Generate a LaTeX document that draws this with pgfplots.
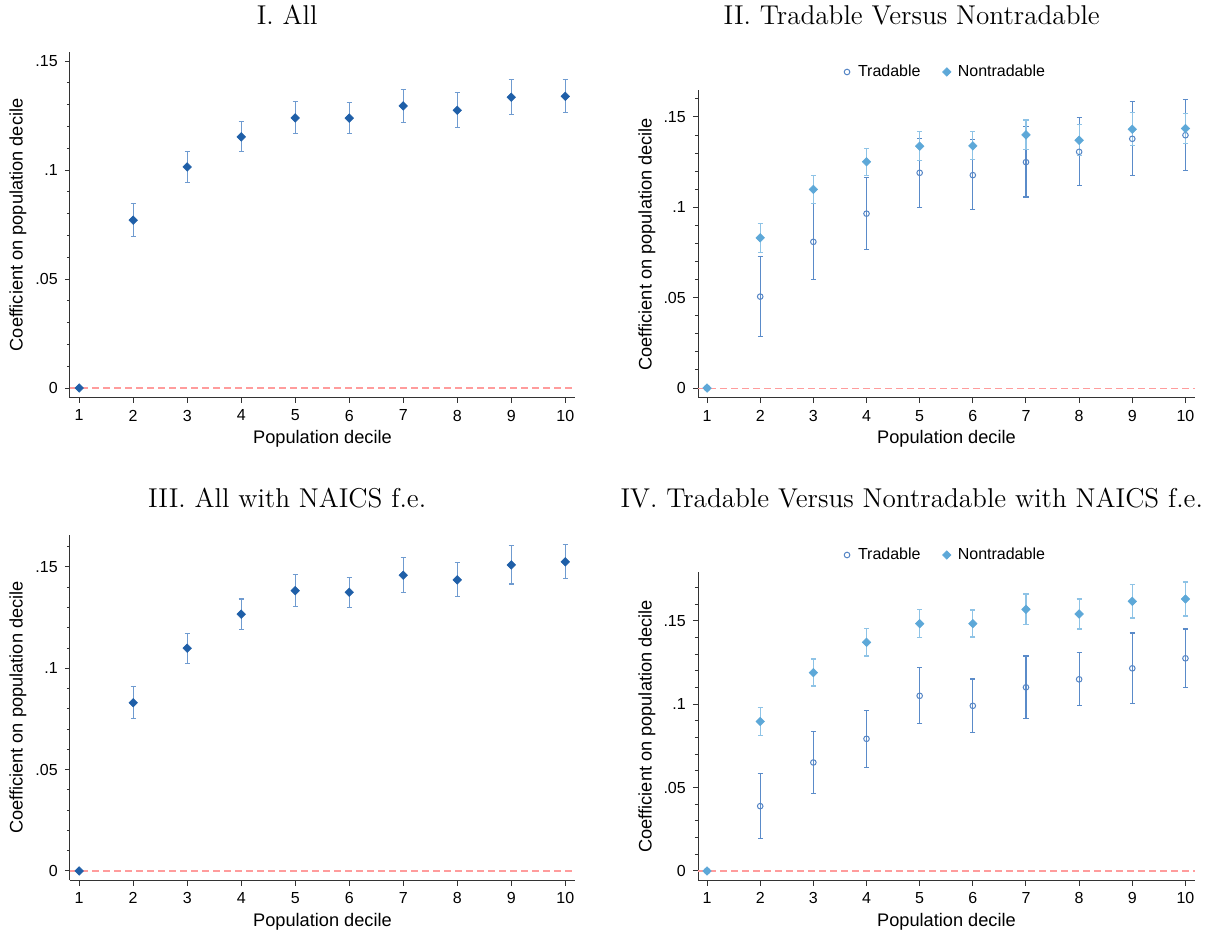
\documentclass[border=0pt]{standalone}
\usepackage{fontspec}
\usepackage{pgfplots}
\usepackage{pgfplotstable}
\pgfplotsset{compat=1.18}
\newfontfamily\arial{Liberation Sans}

\definecolor{allblue}{HTML}{1F5FA8}
\definecolor{allci}{HTML}{6F9BD0}
\definecolor{trblue}{HTML}{5585C5}
\definecolor{trci}{HTML}{5A8BC9}
\definecolor{ntblue}{HTML}{5DA8D8}
\definecolor{ntci}{HTML}{8EC3E6}
\definecolor{zeroline}{HTML}{FF9C9C}
\definecolor{axisgray}{HTML}{333333}

% coefficient, lower and upper confidence bound by population decile
\pgfplotstableread{
x  y      lo     hi
2  0.0770 0.0697 0.0846
3  0.1014 0.0944 0.1085
4  0.1152 0.1084 0.1223
5  0.1239 0.1168 0.1313
6  0.1238 0.1168 0.1309
7  0.1294 0.1218 0.1369
8  0.1274 0.1195 0.1355
9  0.1334 0.1255 0.1415
10 0.1338 0.1264 0.1415
}\tabAll

\pgfplotstableread{
x  y      lo     hi
1  0      0      0
2  0.0506 0.0285 0.0728
3  0.0809 0.0601 0.1020
4  0.0965 0.0765 0.1167
5  0.1191 0.1000 0.1382
6  0.1178 0.0987 0.1375
7  0.1250 0.1057 0.1447
8  0.1307 0.1119 0.1496
9  0.1379 0.1175 0.1586
10 0.1399 0.1206 0.1596
}\tabTr

\pgfplotstableread{
x  y      lo     hi
1  0      0      0
2  0.0831 0.0752 0.0912
3  0.1099 0.1020 0.1175
4  0.1252 0.1175 0.1327
5  0.1338 0.1257 0.1419
6  0.1340 0.1265 0.1419
7  0.1401 0.1320 0.1483
8  0.1371 0.1287 0.1460
9  0.1432 0.1342 0.1524
10 0.1436 0.1353 0.1520
}\tabNt

\pgfplotstableread{
x  y      lo     hi
2  0.0830 0.0752 0.0908
3  0.1099 0.1023 0.1173
4  0.1267 0.1193 0.1342
5  0.1383 0.1303 0.1464
6  0.1375 0.1299 0.1449
7  0.1459 0.1372 0.1548
8  0.1436 0.1352 0.1520
9  0.1510 0.1416 0.1605
10 0.1525 0.1441 0.1612
}\tabAllFE

\pgfplotstableread{
x  y      lo     hi
1  0      0      0
2  0.0389 0.0196 0.0585
3  0.0651 0.0465 0.0837
4  0.0793 0.0623 0.0963
5  0.1051 0.0887 0.1220
6  0.0991 0.0833 0.1152
7  0.1102 0.0913 0.1290
8  0.1150 0.0991 0.1310
9  0.1216 0.1007 0.1428
10 0.1276 0.1100 0.1452
}\tabTrFE

\pgfplotstableread{
x  y      lo     hi
1  0      0      0
2  0.0897 0.0813 0.0981
3  0.1190 0.1110 0.1272
4  0.1372 0.1290 0.1454
5  0.1484 0.1400 0.1570
6  0.1484 0.1404 0.1566
7  0.1570 0.1478 0.1662
8  0.1542 0.1452 0.1632
9  0.1618 0.1518 0.1718
10 0.1632 0.1530 0.1734
}\tabNtFE

\pgfplotsset{
  decile/.style={
    scale only axis,
    axis x line*=bottom, axis y line*=left,
    axis line style={-, draw=axisgray, line width=0.5pt},
    xmin=0.83, xmax=10.18,
    xtick={1,...,10},
    ytick={0,0.05,0.1,0.15}, yticklabels={0,.05,.1,.15},
    minor ytick={0.01,0.02,0.03,0.04,0.06,0.07,0.08,0.09,0.11,0.12,0.13,0.14,0.16,0.17},
    tick align=outside, major tick length=2.6pt, minor tick length=1.6pt,
    every tick/.style={draw=axisgray, line width=0.5pt},
    tick label style={font=\arial\fontsize{8}{9.6}\selectfont, text=black},
    /pgf/number format/assume math mode=true,
    xlabel={Population decile},
    ylabel={Coefficient on population decile},
    label style={font=\arial\fontsize{9.1}{10.9}\selectfont},
    xlabel style={at={(axis description cs:0.5,0)}, anchor=center, yshift=-20.5pt},
    ylabel style={at={(axis description cs:-0.103,0.5)}, anchor=center},
    title style={font=\fontsize{13.6}{16.3}\selectfont, at={(axis description cs:0.43,1)}, anchor=center},
    clip=false,
    legend style={at={(axis description cs:0.5,1)}, anchor=center, draw=none, fill=none,
      font=\arial\fontsize{8}{9.6}\selectfont, legend columns=2,
      /tikz/every even column/.append style={column sep=9pt}},
    legend cell align=left,
    legend image code/.code={\path[draw=none] (0pt,0pt) -- (5pt,0pt);
      \draw[##1] plot coordinates {(1.5pt,0pt)};},
  },
  cibars/.style={error bars/.cd, y dir=both, y explicit,
    error bar style={line width=0.55pt, draw=#1},
    error mark options={rotate=90, mark size=1.3pt, line width=0.55pt, draw=#1}},
  dia/.style={only marks, mark=square*, mark size=1.5pt,
    mark options={rotate=45, draw=#1, fill=#1, line width=0.3pt}},
  circ/.style={only marks, mark=o, mark size=1.4pt,
    mark options={draw=#1, line width=0.5pt}},
  zero/.style={zeroline, dash pattern=on 3.5pt off 2pt, line width=0.55pt, forget plot},
}

\begin{document}
\begin{tikzpicture}
\useasboundingbox (0,0) rectangle (604pt,468.5pt);

% I. All
\begin{axis}[decile, at={(35pt,269.7pt)}, anchor=south west,
  width=252.5pt, height=172.65pt, ymin=-0.0044, ymax=0.154,
  title={I. All}, title style={yshift=12.65pt}]
\addplot[zero] coordinates {(0.83,0) (10.18,0)};
\addplot[dia=allblue, forget plot] coordinates {(1,0)};
\addplot[dia=allblue, cibars=allci] table[x=x, y=y,
  y error plus expr=\thisrow{hi}-\thisrow{y},
  y error minus expr=\thisrow{y}-\thisrow{lo}] {\tabAll};
\end{axis}

% II. Tradable versus nontradable
\begin{axis}[decile, at={(349pt,269.5pt)}, anchor=south west,
  width=248.5pt, height=153.8pt, ymin=-0.0055, ymax=0.1647,
  title={II. Tradable Versus Nontradable}, title style={yshift=31.7pt},
  legend style={yshift=9.2pt}]
\addplot[zero] coordinates {(0.83,0) (10.18,0)};
\addplot[circ=trblue, cibars=trci] table[x=x, y=y,
  y error plus expr=\thisrow{hi}-\thisrow{y},
  y error minus expr=\thisrow{y}-\thisrow{lo}] {\tabTr};
\addlegendentry{Tradable}
\addplot[dia=ntblue, cibars=ntci] table[x=x, y=y,
  y error plus expr=\thisrow{hi}-\thisrow{y},
  y error minus expr=\thisrow{y}-\thisrow{lo}] {\tabNt};
\addlegendentry{Nontradable}
\end{axis}

% III. All with NAICS fixed effects
\begin{axis}[decile, at={(35pt,28.35pt)}, anchor=south west,
  width=252.5pt, height=172.8pt, ymin=-0.0046, ymax=0.1659,
  title={III. All with NAICS f.e.}, title style={yshift=12.35pt}]
\addplot[zero] coordinates {(0.83,0) (10.18,0)};
\addplot[dia=allblue, forget plot] coordinates {(1,0)};
\addplot[dia=allblue, cibars=allci] table[x=x, y=y,
  y error plus expr=\thisrow{hi}-\thisrow{y},
  y error minus expr=\thisrow{y}-\thisrow{lo}] {\tabAllFE};
\end{axis}

% IV. Tradable versus nontradable with NAICS fixed effects
\begin{axis}[decile, at={(349pt,28.35pt)}, anchor=south west,
  width=248.5pt, height=154.15pt, ymin=-0.0056, ymax=0.1794,
  title={IV. Tradable Versus Nontradable with NAICS f.e.}, title style={yshift=31pt},
  legend style={yshift=8.5pt}]
\addplot[zero] coordinates {(0.83,0) (10.18,0)};
\addplot[circ=trblue, cibars=trci] table[x=x, y=y,
  y error plus expr=\thisrow{hi}-\thisrow{y},
  y error minus expr=\thisrow{y}-\thisrow{lo}] {\tabTrFE};
\addlegendentry{Tradable}
\addplot[dia=ntblue, cibars=ntci] table[x=x, y=y,
  y error plus expr=\thisrow{hi}-\thisrow{y},
  y error minus expr=\thisrow{y}-\thisrow{lo}] {\tabNtFE};
\addlegendentry{Nontradable}
\end{axis}
\end{tikzpicture}
\end{document}
